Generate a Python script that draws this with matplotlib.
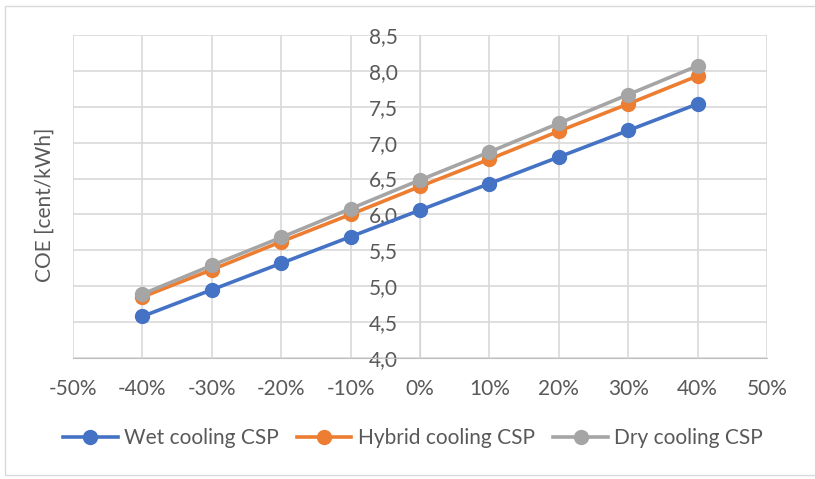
import matplotlib.pyplot as plt
from matplotlib.ticker import FuncFormatter, MultipleLocator
from matplotlib.patches import Rectangle

# variation of parameter (fraction)
variation = [-0.4, -0.3, -0.2, -0.1, 0.0, 0.1, 0.2, 0.3, 0.4]
wet = [4.58, 4.95, 5.32, 5.69, 6.06, 6.43, 6.80, 7.17, 7.54]
hybrid = [4.85, 5.23, 5.62, 6.00, 6.39, 6.77, 7.16, 7.54, 7.93]
dry = [4.89, 5.29, 5.68, 6.08, 6.48, 6.87, 7.27, 7.67, 8.07]

series = [
    ("Wet cooling CSP", wet, "#4472C4"),
    ("Hybrid cooling CSP", hybrid, "#ED7D31"),
    ("Dry cooling CSP", dry, "#A5A5A5"),
]

plt.rcParams['font.family'] = ['Lato', 'DejaVu Sans']
txt = "#595959"
fs = 15

fig = plt.figure(figsize=(8.15, 4.79), dpi=100)
ax = fig.add_axes([73 / 815, 1 - 358 / 479, (767 - 73) / 815, (358 - 35) / 479])

# chart border
fig.patches.append(Rectangle((5 / 815, 4 / 479), 1.2, 1 - 10 / 479, transform=fig.transFigure,
                             fill=False, edgecolor="#d9d9d9", linewidth=1))

for name, vals, col in series:
    ax.plot(variation, vals, color=col, lw=2.6, marker="o", markersize=10, label=name, zorder=3)

ax.set_xlim(-0.5, 0.5)
ax.set_ylim(4.0, 8.5)
ax.xaxis.set_major_locator(MultipleLocator(0.1))
ax.yaxis.set_major_locator(MultipleLocator(0.5))
ax.xaxis.set_major_formatter(FuncFormatter(lambda v, p: f"{v * 100:.0f}%"))
ax.yaxis.set_major_formatter(FuncFormatter(lambda v, p: f"{v:.1f}".replace(".", ",")))
ax.grid(True, color="#d9d9d9", lw=1.2, zorder=0)

for s in ["top", "right"]:
    ax.spines[s].set_visible(False)
ax.spines["left"].set_position(("data", 0))
ax.spines["left"].set_color("#bfbfbf")
ax.spines["bottom"].set_color("#bfbfbf")
ax.spines["left"].set_zorder(1)
ax.tick_params(axis="both", length=0, labelsize=fs, labelcolor=txt)
ax.tick_params(axis="y", pad=16)
ax.tick_params(axis="x", pad=15)

fig.text(45 / 815, 1 - 205 / 479, "COE [cent/kWh]", rotation=90, ha="center", va="center",
         fontsize=fs, color=txt)

leg = fig.legend(loc="center", bbox_to_anchor=(413 / 815, 1 - 438 / 479), ncol=3, frameon=False,
                 fontsize=fs, handlelength=2.6, handletextpad=0.3, columnspacing=0.9)
for t in leg.get_texts():
    t.set_color(txt)

fig.savefig("out.png", dpi=100)
